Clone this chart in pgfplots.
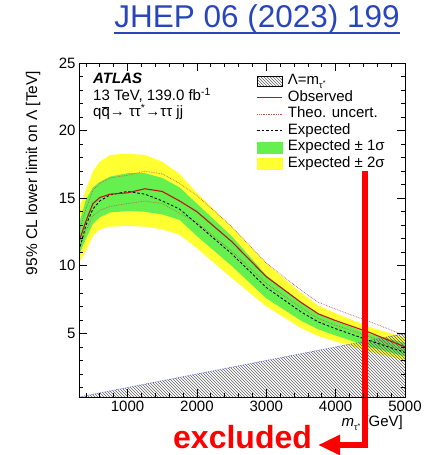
\documentclass[border=0pt]{standalone}
\usepackage{pgfplots}
\pgfplotsset{compat=1.18}
\usepackage{pgfplotstable}
\usepgfplotslibrary{fillbetween}
\usetikzlibrary{patterns,arrows.meta}
\usepackage{fontspec}
\setmainfont{Liberation Sans}
\definecolor{bandgreen}{RGB}{102,240,80}
\definecolor{bandyellow}{RGB}{255,255,50}
\definecolor{obsred}{RGB}{190,20,20}
\definecolor{theo}{RGB}{200,90,80}
\definecolor{hatchblue}{RGB}{110,110,210}
\definecolor{linkblue}{RGB}{40,70,185}
\newcommand\qbar{\makebox[0pt][l]{\rule[0.62em]{0.52em}{0.07em}}q}

\pgfplotstableread{
m    exp   obs   s1lo  s1hi  s2lo  s2hi  thlo  thhi
300  11.1  11.8  10.8  13.1  10.2  14.3  11.3  12.5
400  13.0  13.3  12.0  14.9  11.1  15.6  12.6  14.2
500  14.2  14.6  13.1  15.8  12.2  17.0  13.7  15.6
600  14.8  15.05 13.6  16.2  12.7  17.7  14.1  16.1
750  15.25 15.3  13.95 16.6  12.9  18.2  14.4  16.5
1000 15.5  15.4  14.05 16.85 12.95 18.3  14.6  16.7
1250 15.3  15.7  14.0  16.85 12.9  18.2  14.8  17.0
1500 14.8  15.5  13.8  16.5  12.7  17.7  14.6  16.8
1750 14.2  14.8  13.4  15.8  12.3  16.8  13.9  16.1
2000 13.1  14.0  12.2  14.6  11.3  15.4  13.2  15.2
2500 10.9  11.8  10.0  12.2  9.1   12.9  11.1  12.9
3000 8.4   9.2   7.6   9.3   7.0   10.2  8.7   10.2
3500 6.6   7.3   5.95  7.3   5.4   8.0   6.9   8.2
3750 5.85  6.45  5.3   6.45  4.8   7.05  6.1   7.3
4000 5.35  5.95  4.85  5.9   4.4   6.5   5.6   6.8
4500 4.45  5.05  4.0   4.95  3.65  5.45  4.75  5.85
5000 3.6   4.0   3.3   4.3   3.0   4.7   3.75  4.85
}\limdata

\begin{document}
\begin{tikzpicture}[x=1pt,y=1pt]
\begin{axis}[
  at={(79pt,58pt)}, anchor=south west, scale only axis,
  width=326pt, height=334pt,
  xmin=300, xmax=5000, ymin=0.3, ymax=25,
  xtick={1000,2000,3000,4000,5000},
  minor xtick={400,600,...,4800},
  ytick={5,10,15,20,25},
  minor ytick={1,2,3,4,6,7,8,9,11,12,13,14,16,17,18,19,21,22,23,24},
  scaled x ticks=false,
  major tick length=8pt, minor tick length=4pt,
  tick align=inside,
  ticklabel style={font=\fontsize{15}{15}\selectfont},
  /pgf/number format/assume math mode=true,
  /pgf/number format/set thousands separator={},
  axis line style={line width=0.9pt},
  every tick/.style={black, line width=0.7pt},
  axis on top,
  legend cell align=left,
  legend style={at={(axis description cs:0.545,0.970)}, anchor=north west,
    draw=none, fill=none, inner sep=0pt, row sep=0.5pt, column sep=4pt,
    font=\fontsize{15}{15}\selectfont,
    nodes={inner sep=1pt, text height=10.5pt, text depth=3.5pt}},
]
% hatched region Lambda = m
\addplot[draw=none, pattern=north west lines, pattern color=gray!75!black, forget plot]
  coordinates {(300,0.3) (5000,5) (5000,0.3)} \closedcycle;
% 2 sigma band
\addplot[name path=s2hi, draw=none, forget plot] table[x=m,y=s2hi]{\limdata};
\addplot[name path=s2lo, draw=none, forget plot] table[x=m,y=s2lo]{\limdata};
\addplot[bandyellow, forget plot] fill between[of=s2hi and s2lo];
% 1 sigma band
\addplot[name path=s1hi, draw=none, forget plot] table[x=m,y=s1hi]{\limdata};
\addplot[name path=s1lo, draw=none, forget plot] table[x=m,y=s1lo]{\limdata};
\addplot[bandgreen, forget plot] fill between[of=s1hi and s1lo];
% boundary of hatched region
\addplot[hatchblue, densely dotted, line width=0.8pt, forget plot]
  coordinates {(300,0.3) (5000,5)};
% theory uncertainty
\addplot[theo, densely dotted, line width=0.7pt, forget plot] table[x=m,y=thhi]{\limdata};
\addplot[theo, densely dotted, line width=0.7pt, forget plot] table[x=m,y=thlo]{\limdata};
% expected
\addplot[black, line width=0.9pt, dash pattern=on 2.5pt off 2pt, forget plot] table[x=m,y=exp]{\limdata};
% observed
\addplot[obsred, line width=1.1pt, forget plot] table[x=m,y=obs]{\limdata};

% legend
\addlegendimage{legend image code/.code={\fill[pattern=north west lines, pattern color=gray!75!black] (0pt,-5pt) rectangle (25pt,5pt);}}
\addlegendentry{Λ=m\raisebox{-0.45ex}{\fontsize{9}{9}\selectfont τ\raisebox{0.6ex}{\fontsize{7}{7}\selectfont *}}}
\addlegendimage{legend image code/.code={\draw[obsred, line width=1.1pt] (0pt,0pt) -- (25pt,0pt);}}
\addlegendentry{Observed}
\addlegendimage{legend image code/.code={\draw[theo, densely dotted, line width=0.7pt] (0pt,0pt) -- (25pt,0pt);}}
\addlegendentry{Theo. uncert.}
\addlegendimage{legend image code/.code={\draw[black, line width=0.9pt, dash pattern=on 2.5pt off 2pt] (0pt,0pt) -- (25pt,0pt);}}
\addlegendentry{Expected}
\addlegendimage{legend image code/.code={\fill[bandgreen] (0pt,-5.5pt) rectangle (25pt,5.5pt);}}
\addlegendentry{Expected ± 1σ}
\addlegendimage{legend image code/.code={\fill[bandyellow] (0pt,-5.5pt) rectangle (25pt,5.5pt);}}
\addlegendentry{Expected ± 2σ}
\end{axis}

% ATLAS label
\node[anchor=base west, inner sep=0pt, font=\fontsize{15}{15}\selectfont\bfseries\itshape] at (93,371) {ATLAS};
\node[anchor=base west, inner sep=0pt, font=\fontsize{15}{15}\selectfont] at (93,354) {13 TeV, 139.0 fb\textsuperscript{-1}};
\node[anchor=base west, inner sep=0pt, font=\fontsize{15}{15}\selectfont] at (93,338) {q\qbar→ ττ\textsuperscript{*}→ττ jj};

% axis titles
\node[rotate=90, inner sep=0pt, font=\fontsize{15.5}{15.5}\selectfont] at (33,282) {95\% CL lower limit on Λ [TeV]};
\node[anchor=base east, inner sep=0pt, font=\fontsize{15}{15}\selectfont] at (403,28)
  {\textit{m}\raisebox{-0.5ex}{\fontsize{9}{9}\selectfont τ\raisebox{0.6ex}{\fontsize{7}{7}\selectfont *}} [GeV]};

% JHEP reference
\node (jhep) [anchor=base, inner sep=0pt, text=linkblue, font=\fontsize{31.5}{31.5}\selectfont] at (257,427) {JHEP 06 (2023) 199};
\draw[linkblue, line width=2.2pt] ([yshift=-5pt]jhep.base west) -- ([yshift=-5pt]jhep.base east);

% red annotation
\draw[red, line width=6.5pt, line join=miter, -{Triangle[length=22pt,width=19pt]}]
  (365,284) -- (365,10) -- (318,10);
\node[anchor=base west, inner sep=0pt, text=red, font=\fontsize{32}{32}\selectfont\bfseries] at (173,6.5) {excluded};

\pgfresetboundingbox
\useasboundingbox (0,0) rectangle (425,455);
\end{tikzpicture}
\end{document}
